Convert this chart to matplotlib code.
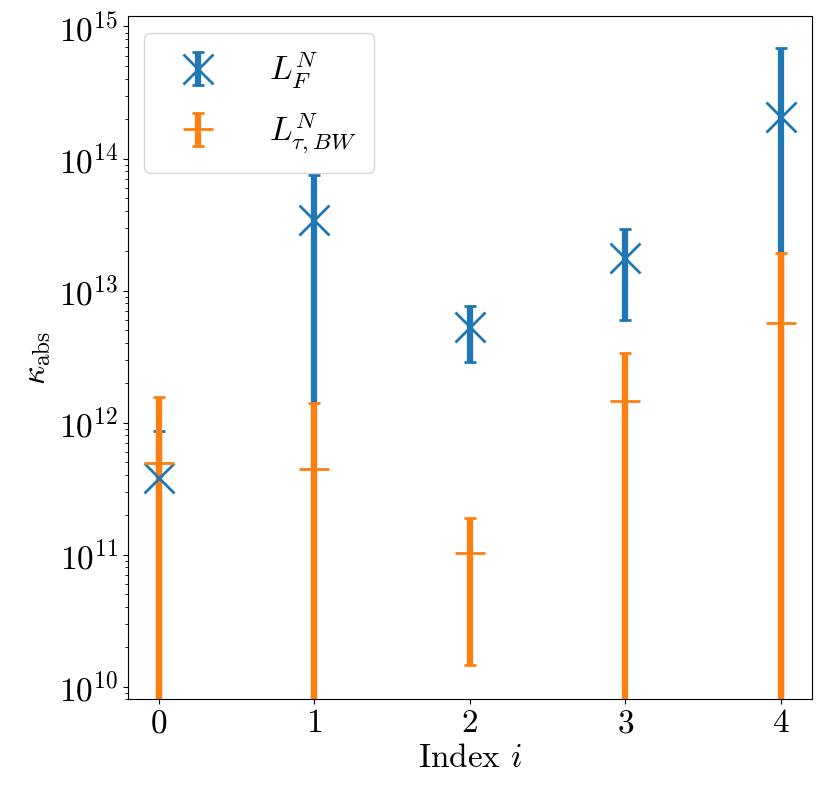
import numpy as np
import matplotlib
matplotlib.use("Agg")
import matplotlib.pyplot as plt

plt.rcParams['font.family'] = 'serif'
plt.rcParams['font.serif'] = ['cmr10']
plt.rcParams['mathtext.fontset'] = 'cm'
plt.rcParams['axes.formatter.use_mathtext'] = True
plt.rcParams['axes.unicode_minus'] = False
plt.rcParams['font.size'] = 24

# values
index = [0, 1, 2, 3, 4]
kappa_F = [3.8e11, 3.42e13, 5.25e12, 1.76e13, 2.06e14]
kappa_F_err = [4.8e11, 4.1e13, 2.37e12, 1.16e13, 4.8e14]
kappa_BW = [4.9e11, 4.45e11, 1.02e11, 1.45e12, 5.67e12]
kappa_BW_err = [1.07e12, 9.6e11, 8.75e10, 1.9e12, 1.35e13]

fig = plt.figure(figsize=(8.3, 8.02), dpi=100)
ax = fig.add_axes([0.154, 0.128, 0.824, 0.852])

ax.errorbar(index, kappa_F, yerr=kappa_F_err, fmt='x', color='tab:blue',
            ms=21, mew=2, elinewidth=4.5, capsize=4.5, capthick=2.2,
            label=r'$L^N_F$')
ax.errorbar(index, kappa_BW, yerr=kappa_BW_err, fmt='_', color='tab:orange',
            ms=21, mew=2, elinewidth=4.5, capsize=4.5, capthick=2.2,
            label=r'$L^N_{\tau,BW}$')

ax.set_yscale('log')
ax.set_ylim(8.0e9, 1.2e15)
ax.set_xlim(-0.2, 4.2)
ax.set_xticks(index)
ax.set_xlabel(r'Index $i$')
ax.set_ylabel(r'$\kappa_{\mathrm{abs}}$')

ax.legend(loc='upper left', fontsize=24, handlelength=2.2, handletextpad=1.05,
          borderpad=0.5, labelspacing=0.6)

fig.savefig('out.png', dpi=100)
